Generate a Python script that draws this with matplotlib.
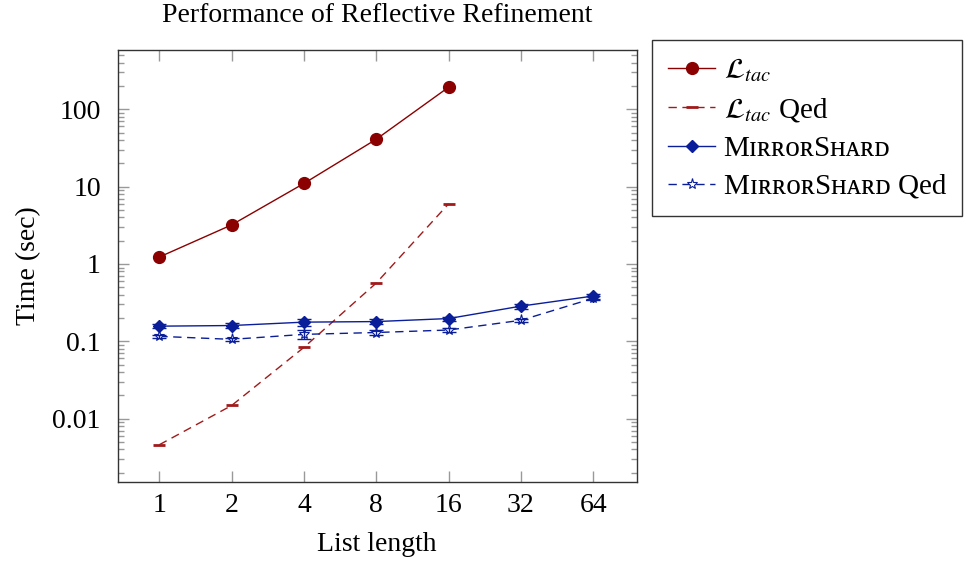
import matplotlib.pyplot as plt
from matplotlib.ticker import FixedLocator, FixedFormatter, LogLocator, NullFormatter, NullLocator

plt.rcParams['font.family'] = ['Liberation Serif', 'DejaVu Serif', 'DejaVu Sans']
plt.rcParams['mathtext.fontset'] = 'stix'

# ---------- DATA ----------
list_len = [1, 2, 4, 8, 16, 32, 64]
ltac = [1.23, 3.2, 11.0, 41.0, 193.0]
ltac_qed = [0.0046, 0.0148, 0.0836, 0.567, 6.0]
mirror = [0.157, 0.160, 0.177, 0.180, 0.197, 0.285, 0.385]
mirror_err = [0.010, 0.010, 0.020, 0.015, 0.012, 0.020, 0.030]
mirror_qed = [0.116, 0.106, 0.123, 0.130, 0.140, 0.187, 0.360]
mirror_qed_err = [0.006, 0.006, 0.015, 0.008, 0.008, 0.010, 0.020]
y_ticks = [0.01, 0.1, 1, 10, 100]
y_labels = ['0.01', '0.1', '1', '10', '100']
# small caps written with unicode small capital letters
mirror_name = 'M\u026a\u0280\u0280\u1d0f\u0280S\u029c\u1d00\u0280\u1d05'

red = '#8b0000'
red_dash = '#a11a1a'
blue = '#0a1e9a'
dash = (0, (6, 4))

# ---------- PLOT ----------
fig = plt.figure(figsize=(9.69, 5.65), dpi=100)
ax = fig.add_axes([0.1213, 0.147, 0.5357, 0.7645])

ax.plot(list_len[:5], ltac, color=red, lw=1, marker='o', ms=8.5,
        label=r'$\mathcal{L}_{tac}$', zorder=4)
ax.plot(list_len[:5], ltac_qed, color=red_dash, lw=1, ls=dash,
        marker='_', ms=9, mew=2, label=r'$\mathcal{L}_{tac}$ Qed', zorder=3)
ax.plot(list_len, mirror, color=blue, lw=1, marker='D', ms=6,
        label=mirror_name, zorder=4)
ax.plot(list_len, mirror_qed, color=blue, lw=1, ls=dash, marker='*', ms=8,
        mfc='white', mew=0.8, label=mirror_name + ' Qed', zorder=3)
ax.errorbar(list_len, mirror, yerr=mirror_err, fmt='none', ecolor=blue,
            capsize=5, elinewidth=1, capthick=1, zorder=4)
ax.errorbar(list_len, mirror_qed, yerr=mirror_qed_err, fmt='none', ecolor=blue,
            capsize=5, elinewidth=1, capthick=1, zorder=3)

ax.set_xscale('log', base=2)
ax.set_yscale('log')
ax.set_xlim(0.67, 97)
ax.set_ylim(0.00152, 584)

ax.xaxis.set_major_locator(FixedLocator(list_len))
ax.xaxis.set_major_formatter(FixedFormatter([str(v) for v in list_len]))
ax.xaxis.set_minor_locator(NullLocator())
ax.yaxis.set_major_locator(FixedLocator(y_ticks))
ax.yaxis.set_major_formatter(FixedFormatter(y_labels))
ax.yaxis.set_minor_locator(LogLocator(base=10, subs=range(2, 10), numticks=20))
ax.yaxis.set_minor_formatter(NullFormatter())

ax.tick_params(which='both', direction='in', top=True, right=True,
               color='#999999', labelsize=20, width=1)
ax.tick_params(which='major', length=8)
ax.tick_params(axis='x', which='major', pad=8)
ax.tick_params(axis='y', which='major', pad=12)
ax.tick_params(which='minor', length=4.5)
for s in ax.spines.values():
    s.set_color('#333333')
    s.set_linewidth(1)

ax.set_xlabel('List length', fontsize=20, labelpad=10)
ax.set_ylabel('Time (sec)', fontsize=20, labelpad=8)
ax.set_title('Performance of Reflective Refinement', fontsize=20, pad=20)

leg = fig.legend(loc='upper left', bbox_to_anchor=(0.673, 0.929),
                 fontsize=21, frameon=True, fancybox=False, edgecolor='black',
                 handlelength=1.6, labelspacing=0.4, borderpad=0.55,
                 handletextpad=0.3, borderaxespad=0)
leg.get_frame().set_linewidth(1)

fig.savefig('out.png', dpi=100)
